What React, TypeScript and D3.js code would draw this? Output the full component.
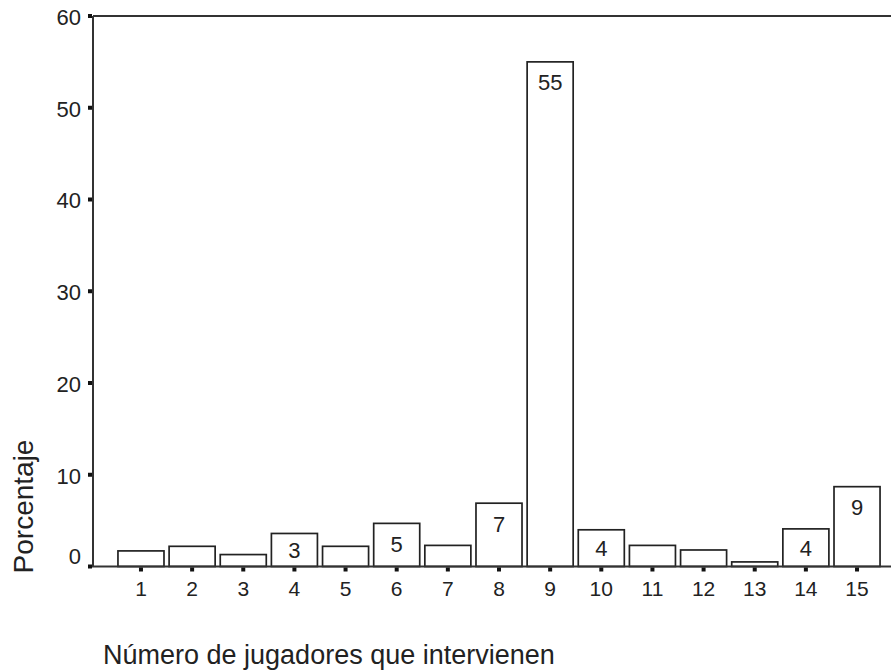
import React from "react";
import * as d3 from "d3";

const categories: string[] = ["1","2","3","4","5","6","7","8","9","10","11","12","13","14","15"];
const percentages: number[] = [1.7, 2.2, 1.3, 3.6, 2.2, 4.7, 2.3, 6.9, 55.0, 4.0, 2.3, 1.8, 0.5, 4.1, 8.7];
const barLabels: string[] = ["", "", "", "3", "", "5", "", "7", "55", "4", "", "", "", "4", "9"];
const yTicks: number[] = [0, 10, 20, 30, 40, 50, 60];
const xTitle = "Número de jugadores que intervienen";
const yTitle = "Porcentaje";

const W = 891;
const H = 672;
const FONT = "'Liberation Sans', Arial, Helvetica, sans-serif";
const INK = "#222";

export default function App() {
  const axisX = 93;
  const x = d3
    .scaleBand<string>()
    .domain(categories)
    .range([115.4, 882.6])
    .paddingInner(0.1)
    .paddingOuter(0.05);
  const y = d3.scaleLinear().domain([0, 60]).range([566.5, 16]);
  const y0 = y(0);

  return (
    <svg
      width={W}
      height={H}
      viewBox={`0 0 ${W} ${H}`}
      style={{ position: "absolute", left: 0, top: 0, background: "#fff" }}
      fontFamily={FONT}
    >
      <rect x={0} y={0} width={W} height={H} fill="#fff" />
      {/* bars */}
      {categories.map((c, i) => {
        const top = y(percentages[i]);
        const h = y0 - top;
        return (
          <rect
            key={"b" + c}
            x={x(c)}
            y={top}
            width={x.bandwidth()}
            height={h}
            fill="#fff"
            stroke={INK}
            strokeWidth={1.7}
          />
        );
      })}
      {/* bar labels */}
      {categories.map((c, i) => {
        if (!barLabels[i]) return null;
        const top = y(percentages[i]);
        const h = y0 - top;
        const cy = top + Math.min(20.5, h / 2);
        return (
          <text
            key={"l" + c}
            x={(x(c) as number) + x.bandwidth() / 2}
            y={cy}
            dy="0.36em"
            textAnchor="middle"
            fontSize={22}
            fill={INK}
          >
            {barLabels[i]}
          </text>
        );
      })}
      {/* frame lines */}
      <line x1={axisX} x2={W} y1={y(60)} y2={y(60)} stroke="#333" strokeWidth={2} />
      <line x1={axisX} x2={axisX} y1={y(60)} y2={y0} stroke="#333" strokeWidth={2} />
      <line x1={axisX - 4} x2={W} y1={y0} y2={y0} stroke="#333" strokeWidth={2} />
      {/* y ticks */}
      {yTicks.map((t) => (
        <g key={"yt" + t}>
          <rect x={axisX - 5} y={y(t) - 2} width={4} height={4} fill="#111" />
          <text
            x={81}
            y={y(t) + (t === 0 ? -10 : 1)}
            dy="0.36em"
            textAnchor="end"
            fontSize={22}
            fill={INK}
          >
            {t}
          </text>
        </g>
      ))}
      {/* x ticks */}
      {categories.map((c) => {
        const cx = (x(c) as number) + x.bandwidth() / 2;
        return (
          <g key={"xt" + c}>
            <rect x={cx - 2} y={y0 + 1} width={4} height={4} fill="#111" />
            <text x={cx} y={588} dy="0.36em" textAnchor="middle" fontSize={21} fill={INK}>
              {c}
            </text>
          </g>
        );
      })}
      {/* axis titles */}
      <text x={103} y={664} fontSize={27} fill={INK}>
        {xTitle}
      </text>
      <text
        transform={`translate(32.5, 506.5) rotate(-90)`}
        textAnchor="middle"
        fontSize={28}
        fill={INK}
      >
        {yTitle}
      </text>
    </svg>
  );
}
